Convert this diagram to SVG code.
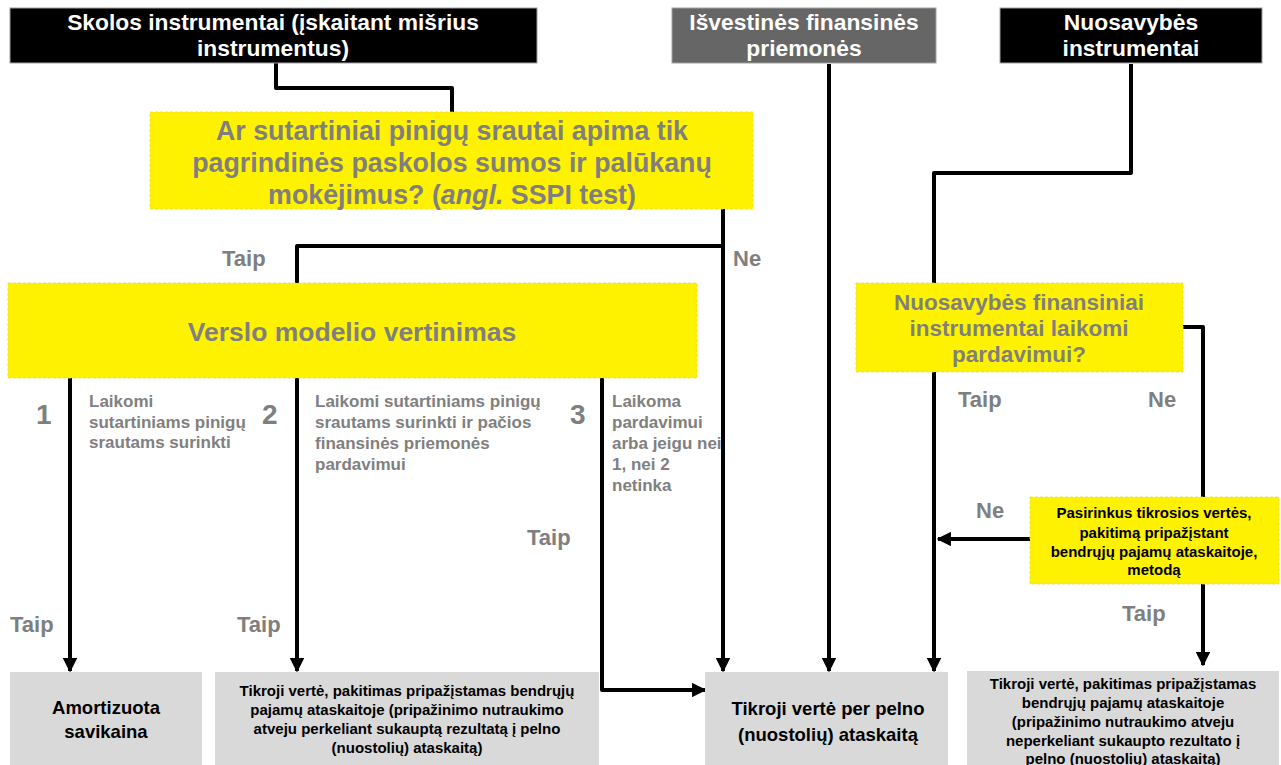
<svg xmlns="http://www.w3.org/2000/svg" width="1281" height="765" viewBox="0 0 1281 765">
<style>
.hdr{stroke:#a0a0a0;stroke-width:1}
.hdrt{font-family:"Liberation Sans",Arial,sans-serif;font-weight:bold;font-size:22.8px;fill:#fff;text-anchor:middle}
.yel{fill:#fff200;stroke:#e6da3a;stroke-width:0.8;stroke-dasharray:3 2}
.q{font-family:"Liberation Sans",Arial,sans-serif;font-weight:bold;fill:#7f7f7f;text-anchor:middle}
.lbl{font-family:"Liberation Sans",Arial,sans-serif;font-weight:bold;font-size:22px;fill:#7f7f7f}
.num{font-family:"Liberation Sans",Arial,sans-serif;font-weight:bold;font-size:28px;fill:#7f7f7f}
.desc{font-family:"Liberation Sans",Arial,sans-serif;font-weight:bold;font-size:17px;fill:#808080}
.res{fill:#d9d9d9}
.rt{font-family:"Liberation Sans",Arial,sans-serif;font-weight:bold;fill:#000;text-anchor:middle}
.ln{fill:none;stroke:#000;stroke-width:4;stroke-linejoin:round}
</style>
<defs>
<marker id="ah" viewBox="0 0 10 10" refX="9" refY="5" markerWidth="3.6" markerHeight="3.6" orient="auto" markerUnits="strokeWidth">
<path d="M0,0 L10,5 L0,10 Z" fill="#000"/>
</marker>
</defs>
<rect width="1281" height="765" fill="#fff"/>

<g id="connectors">
<path class="ln" d="M276,63 V88 H452 V112"/>
<path class="ln" d="M723,209 V246 H297 V283"/>
<path class="ln" d="M723,246 V671" marker-end="url(#ah)"/>
<path class="ln" d="M829,64 V671" marker-end="url(#ah)"/>
<path class="ln" d="M70,378 V671" marker-end="url(#ah)"/>
<path class="ln" d="M297,378 V671" marker-end="url(#ah)"/>
<path class="ln" d="M602,378 V690 H705" marker-end="url(#ah)"/>
<path class="ln" d="M1131,64 V173 H934 V283"/>
<path class="ln" d="M934,372 V671" marker-end="url(#ah)"/>
<path class="ln" d="M1183,327 H1203 V497"/>
<path class="ln" d="M1203,584 V665" marker-end="url(#ah)"/>
<path class="ln" d="M1030,539 H938" marker-end="url(#ah)"/>
</g>

<g id="skolos">
<rect class="hdr" x="10" y="8" width="527" height="55" fill="#000"/>
<text class="hdrt" x="273" y="30">Skolos instrumentai (įskaitant mišrius</text>
<text class="hdrt" x="273" y="56">instrumentus)</text>
</g>
<g id="isvestines">
<rect class="hdr" x="672" y="8" width="264" height="55" fill="#666"/>
<text class="hdrt" x="804" y="30">Išvestinės finansinės</text>
<text class="hdrt" x="804" y="56">priemonės</text>
</g>
<g id="nuosavybes">
<rect class="hdr" x="1000" y="8" width="262" height="55" fill="#000"/>
<text class="hdrt" x="1131" y="30">Nuosavybės</text>
<text class="hdrt" x="1131" y="56">instrumentai</text>
</g>

<g id="sspi">
<rect class="yel" x="150" y="112" width="603" height="97"/>
<text class="q" font-size="26.8" x="452" y="140">Ar sutartiniai pinigų srautai apima tik</text>
<text class="q" font-size="26.8" x="452" y="172">pagrindinės paskolos sumos ir palūkanų</text>
<text class="q" font-size="26.8" x="452" y="204">mokėjimus? (<tspan font-style="italic">angl.</tspan> SSPI test)</text>
</g>

<g id="verslo">
<rect class="yel" x="8" y="283" width="689" height="95"/>
<text class="q" font-size="26.5" x="352" y="341">Verslo modelio vertinimas</text>
</g>

<g id="labels">
<text class="lbl" x="222" y="266">Taip</text>
<text class="lbl" x="733" y="266">Ne</text>
<text class="lbl" x="527" y="545">Taip</text>
<text class="lbl" x="10" y="632">Taip</text>
<text class="lbl" x="237" y="632">Taip</text>
<text class="lbl" x="958" y="407">Taip</text>
<text class="lbl" x="1148" y="407">Ne</text>
<text class="lbl" x="976" y="518">Ne</text>
<text class="lbl" x="1122" y="621">Taip</text>
</g>

<g id="option1">
<text class="num" x="36" y="424">1</text>
<text class="desc" x="89" y="407">Laikomi</text>
<text class="desc" x="89" y="428">sutartiniams pinigų</text>
<text class="desc" x="89" y="448">srautams surinkti</text>
</g>
<g id="option2">
<text class="num" x="262" y="424">2</text>
<text class="desc" x="315" y="407">Laikomi sutartiniams pinigų</text>
<text class="desc" x="315" y="428">srautams surinkti ir pačios</text>
<text class="desc" x="315" y="449">finansinės priemonės</text>
<text class="desc" x="315" y="470">pardavimui</text>
</g>
<g id="option3">
<text class="num" x="570" y="424">3</text>
<text class="desc" x="612" y="407">Laikoma</text>
<text class="desc" x="612" y="428">pardavimui</text>
<text class="desc" x="612" y="449">arba jeigu nei</text>
<text class="desc" x="612" y="470">1, nei 2</text>
<text class="desc" x="612" y="491">netinka</text>
</g>

<g id="laikomi-pardavimui">
<rect class="yel" x="856" y="283" width="327" height="89"/>
<text class="q" font-size="22.5" x="1019" y="310">Nuosavybės finansiniai</text>
<text class="q" font-size="22.5" x="1019" y="336">instrumentai laikomi</text>
<text class="q" font-size="22.5" x="1019" y="362">pardavimui?</text>
</g>

<g id="pasirinkus">
<rect class="yel" x="1030" y="497" width="249" height="87"/>
<text class="rt" font-size="15" x="1154" y="518">Pasirinkus tikrosios vertės,</text>
<text class="rt" font-size="15" x="1154" y="538">pakitimą pripažįstant</text>
<text class="rt" font-size="15" x="1154" y="557">bendrųjų pajamų ataskaitoje,</text>
<text class="rt" font-size="15" x="1154" y="575">metodą</text>
</g>

<g id="amortizuota">
<rect class="res" x="10" y="672" width="192" height="93"/>
<text class="rt" font-size="18.5" x="106" y="714">Amortizuota</text>
<text class="rt" font-size="18.5" x="106" y="738">savikaina</text>
</g>
<g id="tv-bendrosios-perkeliant">
<rect class="res" x="215" y="672" width="384" height="93"/>
<text class="rt" font-size="15" x="407" y="696">Tikroji vertė, pakitimas pripažįstamas bendrųjų</text>
<text class="rt" font-size="15" x="407" y="715">pajamų ataskaitoje (pripažinimo nutraukimo</text>
<text class="rt" font-size="15" x="407" y="734">atveju perkeliant sukauptą rezultatą į pelno</text>
<text class="rt" font-size="15" x="407" y="753">(nuostolių) ataskaitą)</text>
</g>
<g id="tv-pelno">
<rect class="res" x="705" y="672" width="243" height="93"/>
<text class="rt" font-size="18.5" x="828" y="715">Tikroji vertė per pelno</text>
<text class="rt" font-size="18.5" x="828" y="741">(nuostolių) ataskaitą</text>
</g>
<g id="tv-bendrosios-neperkeliant">
<rect class="res" x="967" y="671" width="312" height="94"/>
<text class="rt" font-size="15" x="1123" y="689">Tikroji vertė, pakitimas pripažįstamas</text>
<text class="rt" font-size="15" x="1123" y="708">bendrųjų pajamų ataskaitoje</text>
<text class="rt" font-size="15" x="1123" y="727">(pripažinimo nutraukimo atveju</text>
<text class="rt" font-size="15" x="1123" y="746">neperkeliant sukaupto rezultato į</text>
<text class="rt" font-size="15" x="1123" y="764">pelno (nuostolių) ataskaitą)</text>
</g>
</svg>
